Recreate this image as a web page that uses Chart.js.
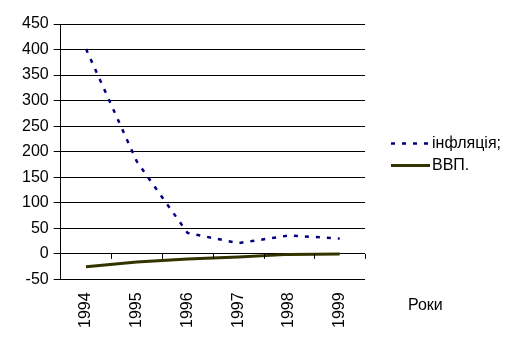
<!DOCTYPE html>
<html>
<head>
<meta charset="utf-8">
<script src="https://cdn.jsdelivr.net/npm/chart.js@4/dist/chart.umd.min.js"></script>
<style>
  html, body { margin: 0; padding: 0; background: #fff; }
  #wrap { width: 513px; height: 341px; }
</style>
</head>
<body>
<div id="wrap"><canvas id="chart"></canvas></div>
<script>
const years = ["1994", "1995", "1996", "1997", "1998", "1999"];
const inflation = [401, 181, 41, 21, 36, 30];
const gdp = [-25, -16, -10, -6, -1, -0.5];
const axisTitle = "Роки";

const FONT = "'Liberation Sans', Arial, sans-serif";

// short tick marks on the zero line, between the year categories
const zeroTicks = {
  id: "zeroTicks",
  afterDatasetsDraw(chart) {
    const x = chart.scales.x;
    const y0 = chart.scales.y.getPixelForValue(0);
    const half = (x.getPixelForValue(1) - x.getPixelForValue(0)) / 2;
    const ctx = chart.ctx;
    ctx.save();
    ctx.strokeStyle = "#000";
    ctx.lineWidth = 1;
    ctx.beginPath();
    for (let i = 1; i <= years.length; i++) {
      const px = Math.round(x.getPixelForValue(i) - half) + 0.5;
      ctx.moveTo(px, y0);
      ctx.lineTo(px, y0 + 5);
    }
    ctx.stroke();
    ctx.restore();
  },
};

// legend with line samples (dashes included) plus the axis title below it
const sideLegend = {
  id: "sideLegend",
  afterDraw(chart) {
    const ctx = chart.ctx;
    const area = chart.chartArea;
    const left = area.right + 26;
    const mid = (area.top + area.bottom) / 2;
    ctx.save();
    ctx.font = "16px " + FONT;
    ctx.fillStyle = "#000";
    ctx.textBaseline = "middle";
    chart.data.datasets.forEach((ds, i) => {
      const y = Math.round(mid - 9 + i * 22) + 0.5;
      ctx.strokeStyle = ds.borderColor;
      ctx.lineWidth = ds.borderWidth;
      ctx.setLineDash(ds.borderDash || []);
      ctx.beginPath();
      ctx.moveTo(left, y);
      ctx.lineTo(left + 39, y);
      ctx.stroke();
      ctx.fillText(ds.label, left + 41, y);
    });
    ctx.fillText(axisTitle, area.right + 43, area.bottom + 26);
    ctx.restore();
  },
};

new Chart(document.getElementById("chart"), {
  type: "line",
  data: {
    labels: years,
    datasets: [
      {
        label: "інфляція;",
        data: inflation,
        borderColor: "#000080",
        borderWidth: 2.5,
        borderDash: [4, 7],
        pointRadius: 0,
        tension: 0,
      },
      {
        label: "ВВП.",
        data: gdp,
        borderColor: "#333300",
        borderWidth: 3,
        pointRadius: 0,
        tension: 0,
      },
    ],
  },
  options: {
    responsive: true,
    maintainAspectRatio: false,
    animation: false,
    layout: { padding: { top: 24, left: 17, bottom: 0, right: 148 } },
    plugins: {
      tooltip: { enabled: false },
      legend: { display: false },
    },
    scales: {
      x: {
        offset: true,
        grid: { display: false, drawTicks: false },
        border: { display: false },
        ticks: {
          minRotation: 90,
          maxRotation: 90,
          padding: 13,
          color: "#000",
          font: { family: FONT, size: 16 },
        },
      },
      y: {
        min: -50,
        max: 450,
        grid: { color: "#000", lineWidth: 1, tickLength: 7 },
        border: { color: "#000", width: 1 },
        ticks: {
          stepSize: 50,
          padding: 5,
          color: "#000",
          font: { family: FONT, size: 16 },
        },
      },
    },
  },
  plugins: [zeroTicks, sideLegend],
});
</script>
</body>
</html>
